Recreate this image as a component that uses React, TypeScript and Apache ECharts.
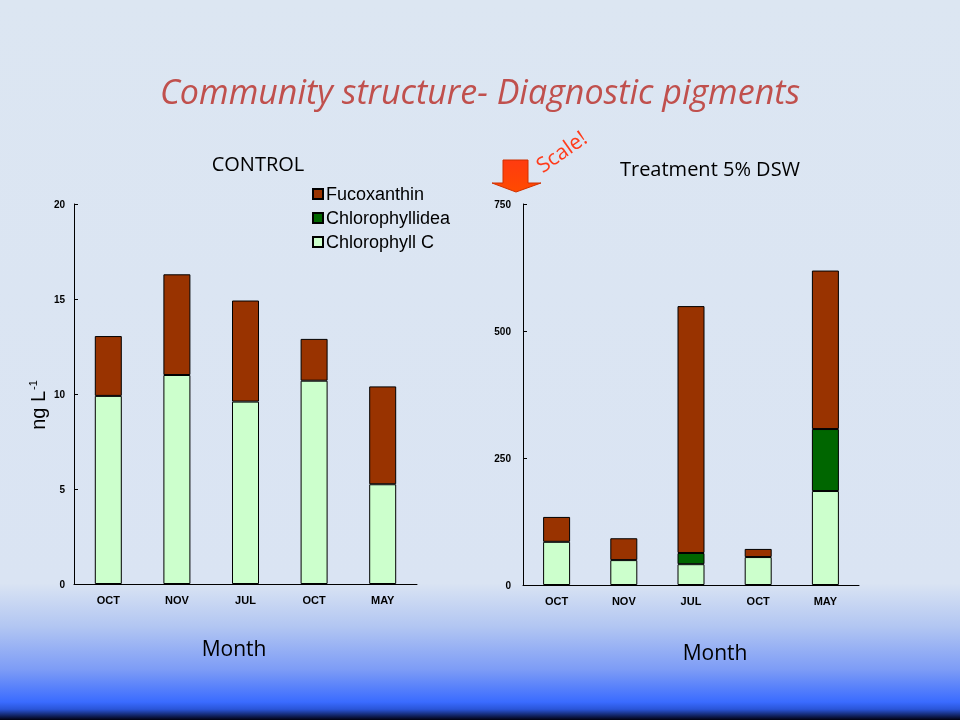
import React, { useEffect, useRef } from "react";
import * as echarts from "echarts";

const months = ["OCT", "NOV", "JUL", "OCT", "MAY"];
const seriesNames = ["Fucoxanthin", "Chlorophyllidea", "Chlorophyll C"];

// CONTROL (ng L-1)
const controlChlC = [9.9, 11.0, 9.6, 10.7, 5.25];
const controlChlide = [0, 0, 0, 0, 0];
const controlFuco = [3.15, 5.3, 5.32, 2.2, 5.15];

// Treatment 5% DSW (ng L-1)
const treatChlC = [85, 49, 41, 55, 185];
const treatChlide = [0, 0, 22, 0, 122];
const treatFuco = [49, 43, 486, 16, 312];

const leftTicks = { min: 0, max: 20, interval: 5 };
const rightTicks = { min: 0, max: 750, interval: 250 };

const colors = {
  "Fucoxanthin": "#993300",
  "Chlorophyllidea": "#006600",
  "Chlorophyll C": "#ccffcc",
};

export default function App() {
  const ref = useRef<HTMLDivElement>(null);
  useEffect(() => {
    if (!ref.current) return;
    const chart = echarts.init(ref.current, null, { renderer: "svg" });
    const labelFont = {
      fontFamily: "'Liberation Sans Narrow', 'Liberation Sans', Arial, sans-serif",
      fontWeight: "bold" as const,
      fontSize: 11,
      color: "#000",
    };
    const mkBar = (name: string, data: number[], idx: number) => ({
      name,
      type: "bar",
      stack: "s" + idx,
      xAxisIndex: idx,
      yAxisIndex: idx,
      barWidth: 27,
      data: data.map((v) => (v === 0 ? "-" : v)),
      itemStyle: { color: (colors as any)[name], borderColor: "#000", borderWidth: 1 },
    });
    const xAxisBase = {
      type: "category",
      data: months,
      axisLine: { lineStyle: { color: "#000", width: 1 } },
      axisTick: { show: false },
      axisLabel: { ...labelFont, margin: 10 },
    };
    const yAxisBase = {
      type: "value",
      axisLine: { show: true, lineStyle: { color: "#000", width: 1 } },
      axisTick: { show: true, inside: true, length: 4, lineStyle: { color: "#000" } },
      splitLine: { show: false },
    };
    const calibri = "'Open Sans', 'Noto Sans', sans-serif";
    chart.setOption({
      animation: false,
      textStyle: { fontFamily: "'Liberation Sans', Arial, sans-serif" },
      grid: [
        { left: 74, top: 204, width: 343, height: 380 },
        { left: 523, top: 204, width: 336, height: 381 },
      ],
      xAxis: [
        { ...xAxisBase, gridIndex: 0 },
        { ...xAxisBase, gridIndex: 1 },
      ],
      yAxis: [
        { ...yAxisBase, gridIndex: 0, ...leftTicks, axisLabel: { ...labelFont, fontSize: 10, margin: 9 } },
        { ...yAxisBase, gridIndex: 1, ...rightTicks, axisLabel: { ...labelFont, fontSize: 10, margin: 12 } },
      ],
      legend: {
        orient: "vertical",
        left: 307,
        top: 180,
        itemWidth: 10,
        itemHeight: 10,
        itemGap: 6,
        icon: "rect",
        data: seriesNames,
        textStyle: {
          fontFamily: "'Liberation Sans', Arial, sans-serif",
          fontSize: 18,
          lineHeight: 18,
          color: "#000",
          padding: [0, 0, 0, -2],
        },
      },
      series: [
        mkBar("Chlorophyll C", controlChlC, 0),
        mkBar("Chlorophyllidea", controlChlide, 0),
        mkBar("Fucoxanthin", controlFuco, 0),
        mkBar("Chlorophyll C", treatChlC, 1),
        mkBar("Chlorophyllidea", treatChlide, 1),
        mkBar("Fucoxanthin", treatFuco, 1),
      ],
      graphic: [
        {
          type: "rect",
          z: -100,
          silent: true,
          shape: { x: 0, y: 0, width: 960, height: 720 },
          style: {
            fill: new echarts.graphic.LinearGradient(0, 0, 0, 1, [
              { offset: 0, color: "#dce6f2" },
              { offset: 0.81, color: "#dae4f3" },
              { offset: 0.87, color: "#b2c6f2" },
              { offset: 0.93, color: "#7d9cf6" },
              { offset: 0.975, color: "#3a6bff" },
              { offset: 0.985, color: "#2a55d8" },
              { offset: 1, color: "#000010" },
            ]),
          },
        },
        {
          type: "text",
          x: 480,
          y: 91,
          style: {
            text: "Community structure- Diagnostic pigments",
            fontFamily: calibri,
            fontStyle: "italic",
            fontSize: 34,
            fill: "#c0504d",
            align: "center",
            verticalAlign: "middle",
          },
        },
        {
          type: "text",
          x: 258,
          y: 163,
          style: {
            text: "CONTROL",
            fontFamily: calibri,
            fontSize: 20,
            fill: "#000",
            align: "center",
            verticalAlign: "middle",
          },
        },
        {
          type: "text",
          x: 710,
          y: 168,
          style: {
            text: "Treatment 5% DSW",
            fontFamily: calibri,
            fontSize: 20,
            fill: "#000",
            align: "center",
            verticalAlign: "middle",
          },
        },
        {
          type: "text",
          x: 234,
          y: 648,
          style: {
            text: "Month",
            fontFamily: calibri,
            fontSize: 21,
            fill: "#000",
            align: "center",
            verticalAlign: "middle",
          },
        },
        {
          type: "text",
          x: 715,
          y: 652,
          style: {
            text: "Month",
            fontFamily: calibri,
            fontSize: 21,
            fill: "#000",
            align: "center",
            verticalAlign: "middle",
          },
        },
        {
          type: "text",
          x: 38,
          y: 405,
          rotation: Math.PI / 2,
          style: {
            text: "{a|ng L}{b|-1}",
            align: "center",
            verticalAlign: "middle",
            rich: {
              a: { fontFamily: "'Liberation Sans', Arial, sans-serif", fontSize: 20, fill: "#000", color: "#000" },
              b: { fontFamily: "'Liberation Sans', Arial, sans-serif", fontSize: 11, fill: "#000", color: "#000", verticalAlign: "top", padding: [0, 0, 10, 1] },
            },
          },
        },
        {
          type: "polygon",
          shape: {
            points: [
              [503, 160], [528, 160], [528, 183], [541, 183], [516, 192], [492, 183], [503, 183],
            ],
          },
          style: {
            fill: new echarts.graphic.LinearGradient(0, 0, 0, 1, [
              { offset: 0, color: "#ff3b10" },
              { offset: 1, color: "#ff4a00" },
            ]),
            stroke: "#d03000",
            lineWidth: 1,
          },
        },
        {
          type: "text",
          x: 561,
          y: 151,
          rotation: (35 * Math.PI) / 180,
          style: {
            text: "Scale!",
            fontFamily: calibri,
            fontSize: 21,
            fill: "#ff3b1a",
            align: "center",
            verticalAlign: "middle",
          },
        },
      ],
    });
    return () => chart.dispose();
  }, []);
  return (
    <div
      ref={ref}
      style={{ position: "fixed", left: 0, top: 0, width: 960, height: 720 }}
    />
  );
}
